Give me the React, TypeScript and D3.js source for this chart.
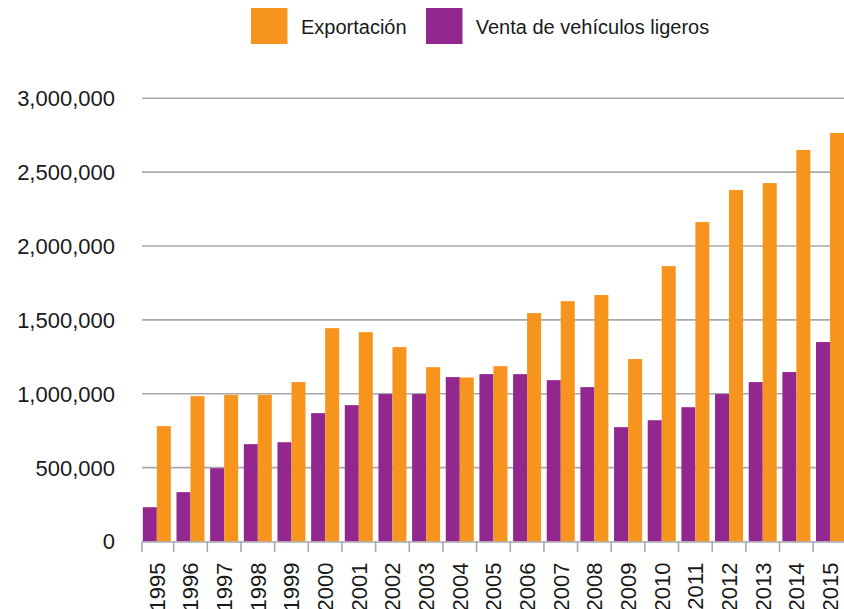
import React from "react";
import * as d3 from "d3";

const years = ["1995","1996","1997","1998","1999","2000","2001","2002","2003","2004","2005","2006","2007","2008","2009","2010","2011","2012","2013","2014","2015"];
const ventas = [232000,334000,496000,659000,672000,869000,923000,998000,998000,1113000,1133000,1133000,1092000,1045000,774000,821000,909000,998000,1079000,1147000,1350000];
const exportacion = [781000,984000,993000,993000,1079000,1444000,1417000,1316000,1180000,1110000,1187000,1546000,1627000,1668000,1235000,1864000,2162000,2379000,2426000,2650000,2765000];
const yTicks = [0,500000,1000000,1500000,2000000,2500000,3000000];
const seriesKeys = ["ventas","exportacion"];
const seriesLabels = ["Exportación","Venta de vehículos ligeros"];

const W = 844, H = 609;
const ORANGE = "#F7941D";
const PURPLE = "#92278F";
const GRID = "#a7a9ac";
const FONT = "'Liberation Sans', Arial, sans-serif";
const TEXT = "#1a1a1a";

export default function App() {
  const x = d3.scaleBand<string>().domain(years).range([140, 140 + 21 * 33.66]).paddingInner(0).paddingOuter(0);
  const x1 = d3.scaleBand<string>().domain(seriesKeys).range([0, x.bandwidth()]).paddingInner(0).paddingOuter(0.202);
  const y = d3.scaleLinear().domain([0, 3000000]).range([541.5, 98.3]);
  const fmt = d3.format(",");
  const plotLeft = 142;
  const plotRight = W;
  const tickXs = [plotLeft, ...years.slice(1).map((yr) => x(yr)!)];
  const data = [ventas, exportacion];
  const colors = [PURPLE, ORANGE];

  return (
    <svg width={W} height={H} style={{ position: "absolute", left: 0, top: 0, background: "#fff" }} fontFamily={FONT}>
      {/* gridlines */}
      {yTicks.slice(1).map((t) => (
        <line key={t} x1={plotLeft} x2={plotRight} y1={y(t)} y2={y(t)} stroke={GRID} strokeWidth={1.6} />
      ))}
      {/* y labels */}
      {yTicks.map((t) => (
        <text key={"l" + t} x={115} y={y(t)} dy="0.36em" textAnchor="end" fontSize={22} fill={TEXT}>
          {fmt(t)}
        </text>
      ))}
      {/* bars */}
      {data.map((series, si) =>
        series.map((v, i) => (
          <rect
            key={si + "-" + i}
            x={x(years[i])! + x1(seriesKeys[si])!}
            width={x1.bandwidth()}
            y={y(v)}
            height={y(0) - y(v)}
            fill={colors[si]}
          />
        ))
      )}
      {/* x axis */}
      <line x1={plotLeft} x2={plotRight} y1={y(0) + 0.5} y2={y(0) + 0.5} stroke={GRID} strokeWidth={1.6} />
      {tickXs.map((tx, i) => (
        <line key={"t" + i} x1={tx} x2={tx} y1={y(0)} y2={y(0) + 10.5} stroke={GRID} strokeWidth={1.6} />
      ))}
      {years.map((yr) => {
        const cx = x(yr)! + x.bandwidth() / 2;
        return (
          <text key={"x" + yr} transform={`translate(${cx},562.5) rotate(-90)`} dy="0.36em" textAnchor="end" fontSize={22} fill={TEXT}>
            {yr}
          </text>
        );
      })}
      {/* legend */}
      <rect x={251} y={8} width={36.5} height={36} fill={ORANGE} />
      <text x={301} y={34.3} fontSize={20} fill={TEXT}>{seriesLabels[0]}</text>
      <rect x={426} y={8} width={36.5} height={36} fill={PURPLE} />
      <text x={475.7} y={34.3} fontSize={20} fill={TEXT}>{seriesLabels[1]}</text>
    </svg>
  );
}
